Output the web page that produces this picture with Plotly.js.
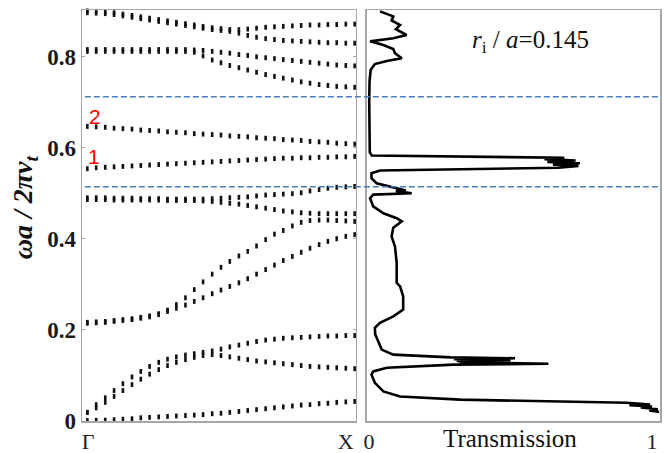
<!DOCTYPE html>
<html>
<head>
<meta charset="utf-8">
<script src="https://cdn.plot.ly/plotly-3.0.1.min.js"></script>
<style>html,body{margin:0;padding:0;background:#fff;}#chart{width:664px;height:453px;}</style>
</head>
<body>
<div id="chart"></div>
<script>
// Wave-vector grid (Γ -> X)
const k = [0, 0.033, 0.067, 0.1, 0.133, 0.167, 0.2, 0.233, 0.267, 0.3, 0.333, 0.367, 0.4, 0.433, 0.467, 0.5, 0.533, 0.567, 0.6, 0.633, 0.667, 0.7, 0.733, 0.767, 0.8, 0.833, 0.867, 0.9, 0.933, 0.967, 1];

// Bands (ωa/2πv_t)
const band0  = [0.000,0.0005,0.001,0.002,0.003,0.004,0.006,0.007,0.008,0.009,0.010,0.011,0.012,0.013,0.015,0.016,0.018,0.020,0.022,0.024,0.026,0.028,0.030,0.032,0.034,0.035,0.037,0.038,0.040,0.041,0.042];
const band1u = [0.018,0.035,0.050,0.066,0.081,0.096,0.108,0.119,0.128,0.135,0.140,0.144,0.147,0.150,0.153,0.157,0.162,0.166,0.170,0.174,0.177,0.179,0.181,0.182,0.183,0.184,0.185,0.186,0.186,0.187,0.187];
const band1l = [0.018,0.028,0.040,0.053,0.066,0.079,0.091,0.102,0.112,0.121,0.128,0.134,0.139,0.143,0.145,0.143,0.140,0.137,0.134,0.131,0.129,0.127,0.125,0.123,0.121,0.119,0.118,0.117,0.116,0.115,0.114];
const band2u = [0.216,0.217,0.218,0.220,0.222,0.224,0.227,0.230,0.235,0.243,0.255,0.270,0.288,0.305,0.322,0.337,0.350,0.362,0.372,0.384,0.398,0.410,0.418,0.428,0.436,0.440,0.441,0.441,0.440,0.439,0.438];
const band2l = [0.214,0.215,0.216,0.218,0.220,0.222,0.225,0.228,0.233,0.240,0.247,0.254,0.262,0.270,0.279,0.287,0.295,0.303,0.312,0.322,0.332,0.342,0.352,0.361,0.370,0.379,0.387,0.394,0.400,0.405,0.409];
const band3u = [0.490,0.490,0.490,0.489,0.489,0.489,0.488,0.488,0.488,0.487,0.487,0.487,0.487,0.487,0.488,0.489,0.490,0.491,0.492,0.494,0.496,0.497,0.498,0.499,0.501,0.505,0.508,0.511,0.513,0.514,0.515];
const band3l = [0.486,0.486,0.486,0.485,0.485,0.485,0.485,0.485,0.485,0.484,0.484,0.484,0.484,0.483,0.482,0.480,0.478,0.476,0.473,0.470,0.467,0.464,0.461,0.459,0.457,0.456,0.455,0.455,0.455,0.455,0.455];
const band4  = [0.554,0.556,0.557,0.558,0.559,0.560,0.561,0.562,0.563,0.564,0.565,0.566,0.567,0.568,0.569,0.570,0.571,0.572,0.573,0.574,0.575,0.576,0.577,0.577,0.578,0.578,0.579,0.579,0.580,0.580,0.581];
const band5  = [0.647,0.646,0.645,0.643,0.642,0.641,0.639,0.638,0.637,0.635,0.634,0.633,0.631,0.630,0.629,0.628,0.626,0.625,0.624,0.622,0.621,0.620,0.618,0.617,0.616,0.614,0.613,0.612,0.610,0.609,0.608];
const band6u = [0.816,0.816,0.816,0.816,0.816,0.816,0.816,0.816,0.816,0.816,0.816,0.816,0.815,0.814,0.812,0.810,0.808,0.805,0.803,0.800,0.798,0.796,0.794,0.792,0.790,0.788,0.786,0.784,0.782,0.781,0.780];
const band6l = [0.812,0.812,0.812,0.812,0.812,0.812,0.812,0.812,0.812,0.812,0.812,0.812,0.810,0.802,0.793,0.787,0.781,0.776,0.771,0.766,0.761,0.757,0.753,0.749,0.745,0.742,0.739,0.737,0.735,0.734,0.733];
const band7u = [0.901,0.900,0.899,0.897,0.894,0.891,0.888,0.885,0.882,0.879,0.876,0.873,0.870,0.867,0.864,0.862,0.860,0.860,0.861,0.863,0.865,0.866,0.867,0.868,0.869,0.870,0.870,0.871,0.871,0.872,0.872];
const band7l = [0.897,0.896,0.895,0.893,0.890,0.887,0.884,0.881,0.878,0.875,0.872,0.869,0.866,0.863,0.860,0.858,0.856,0.852,0.847,0.843,0.840,0.838,0.836,0.835,0.834,0.833,0.832,0.831,0.831,0.830,0.830];

// Transmission spectrum (T vs frequency), in drawing order from top
const transT = [0.039,0.086,0.080,0.110,0.095,0.133,0.086,0.004,0.051,0.086,0.092,0.116,0.063,0.021,0.006,0.002,0.001,0.001,0.002,0.003,0.010,
  0.690,0.620,0.730,0.630,0.745,0.650,0.740,0.670,0.039,0.009,0.009,0.027,0.074,0.110,0.130,0.095,0.151,0.015,
  0.004,0.015,0.051,0.098,0.116,0.086,0.080,0.092,0.098,0.098,0.110,0.121,0.121,0.086,0.039,0.021,0.022,0.030,0.045,0.086,
  0.290,0.516,0.300,0.500,0.310,0.460,0.320,0.634,0.300,0.063,0.015,0.009,0.021,0.051,0.110,0.322,0.675,0.911,0.993,0.920,1.000,0.960,1.020,0.990,1.025];
const transF = [0.900,0.889,0.880,0.870,0.861,0.848,0.841,0.834,0.826,0.817,0.808,0.797,0.791,0.784,0.771,0.745,0.700,0.650,0.600,0.590,0.583,
  0.578,0.575,0.572,0.569,0.566,0.563,0.560,0.556,0.550,0.544,0.533,0.522,0.515,0.509,0.506,0.505,0.500,0.497,
  0.489,0.471,0.456,0.445,0.438,0.424,0.405,0.383,0.347,0.303,0.295,0.273,0.244,0.229,0.215,0.204,0.190,0.178,0.156,0.145,
  0.139,0.137,0.135,0.133,0.131,0.129,0.128,0.125,0.123,0.116,0.108,0.101,0.083,0.064,0.053,0.046,0.042,0.039,0.035,0.034,0.031,0.029,0.025,0.022,0.019];

// Labels and ticks
const yTickVals = [0, 0.2, 0.4, 0.6, 0.8];
const yTickText = ['0', '0.2', '0.4', '0.6', '0.8'];
const kTickVals = [0.003, 0.967];
const kTickText = ['Γ', 'X'];
const tTickVals = [0, 1];
const tTickText = ['0', '1'];
const gapEdges = [0.514, 0.712];
const bandLabels = [{t: '1', k: 0.026, f: 0.580}, {t: '2', k: 0.030, f: 0.668}];

const bands = [band0, band1u, band1l, band2u, band2l, band3u, band3l, band4, band5, band6u, band6l, band7u, band7l];

const traces = bands.map(b => ({
  x: k, y: b, type: 'scatter', mode: 'markers', xaxis: 'x', yaxis: 'y',
  cliponaxis: false, hoverinfo: 'skip',
  marker: {symbol: 'line-ns-open', size: 3.5, color: '#111', line: {width: 2.6, color: '#111'}}
}));
traces.push({
  x: transT, y: transF, type: 'scatter', mode: 'lines', xaxis: 'x2', yaxis: 'y2',
  cliponaxis: false, line: {color: '#000', width: 2.6}, hoverinfo: 'skip'
});

const frameColor = '#a6a6a6';
const serif = 'Liberation Serif, Times New Roman, serif';

const shapes = gapEdges.map(v => ({
  type: 'line', xref: 'paper', yref: 'y', x0: 0.005, x1: 1, y0: v, y1: v,
  line: {color: '#4a7ebb', width: 1.5, dash: '6px,3px'}
}));

const annotations = bandLabels.map(l => ({
  text: l.t, x: l.k, y: l.f, xref: 'x', yref: 'y', showarrow: false,
  xanchor: 'center', yanchor: 'middle',
  font: {family: 'Liberation Sans, Arial, sans-serif', size: 21, color: '#ff0000'}
}));
annotations.push({
  text: '<i>r</i><sub>i</sub> / <i>a</i>=0.145', x: 0.569, y: 0.833, xref: 'x2', yref: 'y',
  showarrow: false, xanchor: 'center', yanchor: 'middle',
  font: {family: serif, size: 25, color: '#111'}
});
annotations.push({
  text: 'Transmission', x: 0.740, y: -0.043, xref: 'paper', yref: 'paper',
  showarrow: false, xanchor: 'center', yanchor: 'middle',
  font: {family: serif, size: 25, color: '#111'}
});
annotations.push({
  text: '<b><i>ωa / 2πv<sub>t</sub></i></b>', x: -0.098, y: 0.521, xref: 'paper', yref: 'paper',
  showarrow: false, xanchor: 'center', yanchor: 'middle', textangle: -90,
  font: {family: serif, size: 28, color: '#111'}
});

const layout = {
  width: 664, height: 453,
  margin: {l: 82, r: 4, t: 10, b: 32},
  paper_bgcolor: '#fff', plot_bgcolor: '#fff',
  showlegend: false,
  xaxis: {
    domain: [0, 0.474], range: [-0.02, 1.005], anchor: 'y',
    tickvals: kTickVals, ticktext: kTickText, ticks: '',
    showline: true, mirror: true, linecolor: frameColor, linewidth: 1.5,
    showgrid: false, zeroline: false,
    tickfont: {family: serif, size: 22, color: '#222'}
  },
  yaxis: {
    range: [-0.001, 0.903], anchor: 'x',
    tickvals: yTickVals, ticktext: yTickText,
    ticks: 'inside', ticklen: 3, tickcolor: frameColor, tickwidth: 1,
    showline: true, mirror: 'allticks', linecolor: frameColor, linewidth: 1.5,
    showgrid: false, zeroline: false,
    tickfont: {family: serif, size: 23, color: '#1a1a1a', weight: 'bold'}
  },
  xaxis2: {
    domain: [0.493, 1], range: [-0.007, 1.028], anchor: 'y2',
    tickvals: tTickVals, ticktext: tTickText, ticks: '',
    showline: true, mirror: true, linecolor: frameColor, linewidth: 1.5,
    showgrid: false, zeroline: false,
    tickfont: {family: serif, size: 22, color: '#222'}
  },
  yaxis2: {
    range: [-0.001, 0.903], anchor: 'x2', matches: 'y',
    showticklabels: false, ticks: '',
    showline: true, mirror: true, linecolor: frameColor, linewidth: 1.5,
    showgrid: false, zeroline: false
  },
  shapes: shapes,
  annotations: annotations
};

Plotly.newPlot('chart', traces, layout, {staticPlot: true, displayModeBar: false});
</script>
</body>
</html>
